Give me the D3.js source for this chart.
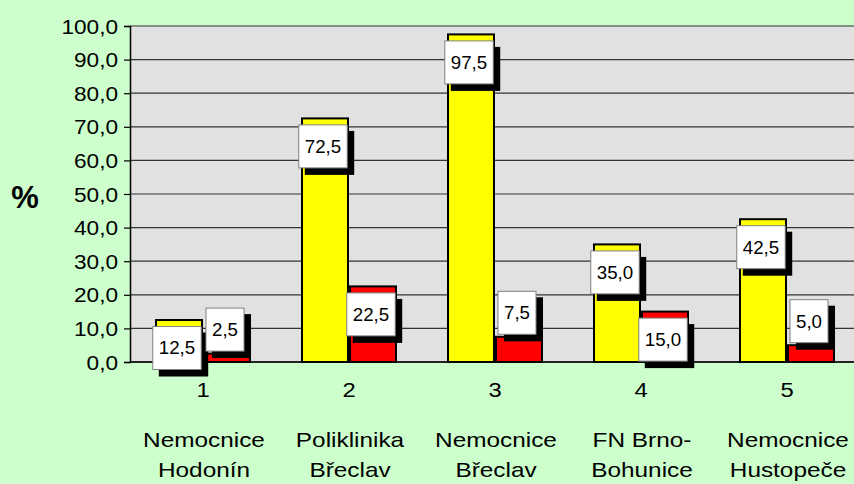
<!DOCTYPE html>
<html><head><meta charset="utf-8">
<script src="https://cdn.jsdelivr.net/npm/d3@7"></script>
<style>
html,body{margin:0;padding:0;background:#CCFFCC;}
svg{display:block;font-family:"Liberation Sans",Arial,sans-serif;}
</style></head>
<body>
<svg id="chart" width="854" height="484"></svg>
<script>
const categories = ["1","2","3","4","5"];
const categoryNames = [["Nemocnice","Hodonín"],["Poliklinika","Břeclav"],["Nemocnice","Břeclav"],["FN Brno-","Bohunice"],["Nemocnice","Hustopeče"]];
const seriesA = [12.5, 72.5, 97.5, 35.0, 42.5];
const seriesB = [2.5, 22.5, 7.5, 15.0, 5.0];
const yTicks = [0,10,20,30,40,50,60,70,80,90,100];

(function(){
const svg = d3.select("#chart");
const W = 854, H = 484;
const SX = 1.16;
svg.append("rect").attr("width",W).attr("height",H).attr("fill","#CCFFCC");

const pLeft = 130, pRight = 860, pTop = 26, pBottom = 362;
const x = d3.scaleBand().domain(categories).range([pLeft,pRight]).paddingInner(0.3425).paddingOuter(0.17125);
const sub = d3.scaleBand().domain(["A","B"]).range([0,x.bandwidth()]);
const y = d3.scaleLinear().domain([0,100]).range([pBottom,pTop]);
const fmt = v => d3.format(".1f")(v).replace(".",",");

svg.append("rect").attr("x",pLeft).attr("y",pTop).attr("width",pRight-pLeft).attr("height",pBottom-pTop).attr("fill","#E1E1E1");

svg.append("g").selectAll("line").data(yTicks).join("line")
  .attr("x1",pLeft).attr("x2",pRight).attr("y1",d=>y(d)).attr("y2",d=>y(d))
  .attr("stroke","#333").attr("stroke-width",1.2);

const yAxis = d3.axisLeft(y).tickValues(yTicks).tickFormat(fmt).tickSize(6).tickPadding(5);
const gy = svg.append("g").attr("transform",`translate(${pLeft},0)`).call(yAxis);
gy.select(".domain").attr("stroke","#000").attr("stroke-width",1.5);
gy.selectAll(".tick line").attr("stroke","#000").attr("stroke-width",1.2);
gy.selectAll(".tick text").attr("font-size",19.5).attr("fill","#000")
  .attr("font-family","'Liberation Sans',Arial,sans-serif").attr("dy","0.36em")
  .attr("x",0).attr("transform",`translate(-12,0) scale(${SX},1)`);

const barItems = [];
categories.forEach((c,i)=>{
  barItems.push({c, key:"A", v:seriesA[i]});
  barItems.push({c, key:"B", v:seriesB[i]});
});
const colors = {A:"#FFFF00", B:"#FF0000"};
svg.append("g").selectAll("rect").data(barItems).join("rect")
  .attr("x",d=>x(d.c)+sub(d.key)+1)
  .attr("y",d=>y(d.v))
  .attr("width",sub.bandwidth()-2)
  .attr("height",d=>y(0)-y(d.v))
  .attr("fill",d=>colors[d.key]).attr("stroke","#000").attr("stroke-width",2);

svg.append("line").attr("x1",pLeft).attr("x2",pRight).attr("y1",pBottom).attr("y2",pBottom)
  .attr("stroke","#000").attr("stroke-width",1.5);

const lab = svg.append("g");
barItems.forEach(d=>{
  const cx = x(d.c)+sub(d.key)+sub.bandwidth()/2 - 2;
  const cy = d.v >= 10 ? y(d.v)+28 : y(d.v)-24;
  const g = lab.append("g");
  const t = g.append("text").text(fmt(d.v)).attr("font-size",18)
    .attr("transform",`translate(${cx},${cy}) scale(1.04,1)`)
    .attr("text-anchor","middle").attr("dy","0.36em").attr("fill","#000");
  const w = t.node().getComputedTextLength()*1.04 + 12;
  const h = 43;
  g.insert("rect","text").attr("x",cx-w/2+6).attr("y",cy-h/2+6).attr("width",w+1).attr("height",h+1).attr("fill","#000");
  g.insert("rect","text").attr("x",cx-w/2).attr("y",cy-h/2).attr("width",w).attr("height",h)
    .attr("fill","#fff").attr("stroke","#808080").attr("stroke-width",1);
});

const xl = svg.append("g");
categories.forEach((c,i)=>{
  const cx = x(c)+x.bandwidth()/2;
  xl.append("text").text(c).attr("transform",`translate(${cx},397) scale(${SX},1)`).attr("text-anchor","middle")
    .attr("font-size",20.5).attr("fill","#000");
  categoryNames[i].forEach((line,j)=>{
    xl.append("text").text(line).attr("transform",`translate(${cx+1},${447+j*30}) scale(${SX},1)`).attr("text-anchor","middle")
      .attr("font-size",21).attr("fill","#000");
  });
});

svg.append("text").text("%").attr("x",25).attr("y",208).attr("text-anchor","middle")
  .attr("font-size",31).attr("font-weight","bold").attr("fill","#000");
})();
</script>
</body></html>
